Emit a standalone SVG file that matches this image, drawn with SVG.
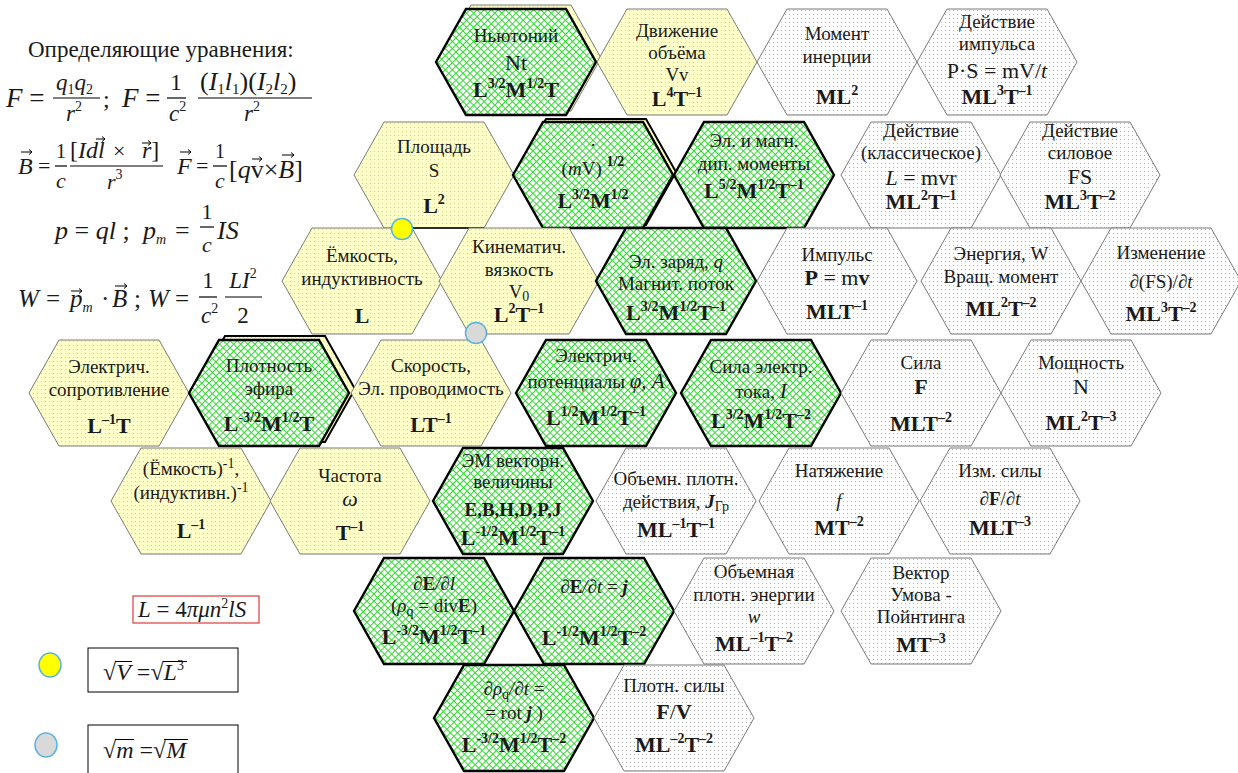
<svg xmlns="http://www.w3.org/2000/svg" width="1238" height="773" viewBox="0 0 1238 773">
<style>
text{font-family:"Liberation Serif","Times New Roman",serif;fill:#1a1a1a}
.t{font-size:19px;text-anchor:middle}
.v{font-size:22px}
.d{font-size:22px;font-weight:bold}
.s{font-size:14px}
.i{font-style:italic}
.u{font-style:normal}
.b{font-weight:bold}
.c{text-anchor:middle}
.g{fill:url(#pg);stroke:#000;stroke-width:2.4}
.y{fill:url(#py);stroke:#7a7a7a;stroke-width:1}
.w{fill:url(#pw);stroke:#7a7a7a;stroke-width:1}
.bar{stroke:#000;stroke-width:1.2}
.ar{stroke:#000;stroke-width:1;fill:none}
</style>
<defs>
<pattern id="pg" width="5" height="5" patternUnits="userSpaceOnUse" patternTransform="rotate(45)">
<rect width="5" height="5" fill="#fff"/>
<path d="M0 0.5H5M0.5 0V5" stroke="#2fdc2f" stroke-width="1"/>
</pattern>
<pattern id="py" width="4" height="4" patternUnits="userSpaceOnUse">
<rect width="4" height="4" fill="#ffffc8"/>
<rect width="1" height="1" fill="#dcd690"/>
</pattern>
<pattern id="pw" width="4" height="4" patternUnits="userSpaceOnUse">
<rect width="4" height="4" fill="#fff"/>
<rect width="1" height="1" fill="#b4b4b4"/>
</pattern>
<polygon id="hx" points="-80,0 -50,-53 50,-53 80,0 50,53 -50,53"/>
</defs>

<g id="equations">
<text x="28" y="57" font-size="23">Определяющие уравнения:</text>
<!-- line 1 -->
<text x="6" y="107" font-size="27"><tspan class="i">F</tspan> =</text>
<text x="56" y="90" font-size="23" class="i">q<tspan class="s u" dy="4">1</tspan><tspan dy="-4">q</tspan><tspan class="s u" dy="4">2</tspan></text>
<line class="bar" x1="53" y1="98" x2="100" y2="98"/>
<text x="66" y="121" font-size="23" class="i">r<tspan class="s u" dy="-10">2</tspan></text>
<text x="103" y="107" font-size="24">;</text>
<text x="122" y="107" font-size="27"><tspan class="i">F</tspan> =</text>
<text x="176" y="90" font-size="23" class="c">1</text>
<line class="bar" x1="167" y1="98" x2="186" y2="98"/>
<text x="169" y="121" font-size="23" class="i">c<tspan class="s u" dy="-10">2</tspan></text>
<text x="200" y="90" font-size="26">(<tspan class="i">I</tspan><tspan font-size="15" dy="4">1</tspan><tspan class="i" dy="-4">l</tspan><tspan font-size="15" dy="4">1</tspan><tspan dy="-4">)(</tspan><tspan class="i">I</tspan><tspan font-size="15" dy="4">2</tspan><tspan class="i" dy="-4">l</tspan><tspan font-size="15" dy="4">2</tspan><tspan dy="-4">)</tspan></text>
<line class="bar" x1="198" y1="98" x2="312" y2="98"/>
<text x="244" y="121" font-size="23" class="i">r<tspan class="s u" dy="-10">2</tspan></text>
<!-- line 2 -->
<text x="18" y="174" font-size="24" class="i">B</text>
<path class="ar" d="M21 152h11m-3 -2.5l3 2.5-3 2.5"/>
<text x="38" y="173" font-size="22">=</text>
<text x="61" y="158" font-size="20" class="c">1</text>
<line class="bar" x1="55" y1="166" x2="67" y2="166"/>
<text x="61" y="188" font-size="22" class="c i">c</text>
<text x="70" y="158" font-size="24">[<tspan class="i">Idl</tspan></text>
<path class="ar" d="M96 139h9m-3 -2.5l3 2.5-3 2.5"/>
<text x="113" y="158" font-size="22">×</text>
<text x="142" y="158" font-size="24"><tspan class="i">r</tspan>]</text>
<path class="ar" d="M142 143h9m-3 -2.5l3 2.5-3 2.5"/>
<line class="bar" x1="70" y1="166" x2="163" y2="166"/>
<text x="107" y="189" font-size="22" class="i">r<tspan class="s u" dy="-10">3</tspan></text>
<text x="177" y="174" font-size="24" class="i">F</text>
<path class="ar" d="M180 152h11m-3 -2.5l3 2.5-3 2.5"/>
<text x="196" y="173" font-size="22">=</text>
<text x="220" y="158" font-size="20" class="c">1</text>
<line class="bar" x1="213" y1="166" x2="227" y2="166"/>
<text x="220" y="188" font-size="22" class="c i">c</text>
<text x="229" y="178" font-size="26">[<tspan class="i">q</tspan>v×<tspan class="i">B</tspan>]</text>
<path class="ar" d="M252 159h10m-3 -2.5l3 2.5-3 2.5"/>
<path class="ar" d="M282 155h12m-3 -2.5l3 2.5-3 2.5"/>
<!-- line 3 -->
<text x="55" y="239" font-size="26"><tspan class="i">p</tspan> = <tspan class="i">ql</tspan> ;</text>
<text x="143" y="239" font-size="26" class="i">p<tspan class="s" dy="5">m</tspan></text>
<text x="175" y="239" font-size="26">=</text>
<text x="207" y="219" font-size="22" class="c">1</text>
<line class="bar" x1="200" y1="227" x2="214" y2="227"/>
<text x="207" y="252" font-size="22" class="c i">c</text>
<text x="217" y="239" font-size="26" class="i">IS</text>
<!-- line 4 -->
<text x="18" y="307" font-size="25" class="i">W</text>
<text x="46" y="307" font-size="25">=</text>
<text x="70" y="307" font-size="25" class="i">p<tspan class="s" dy="5">m</tspan></text>
<path class="ar" d="M71 291h11m-3 -2.5l3 2.5-3 2.5"/>
<text x="101" y="307" font-size="25">·</text>
<text x="112" y="307" font-size="25" class="i">B</text>
<path class="ar" d="M115 286h12m-3 -2.5l3 2.5-3 2.5"/>
<text x="134" y="307" font-size="25">;</text>
<text x="148" y="307" font-size="25" class="i">W</text>
<text x="175" y="307" font-size="25">=</text>
<text x="208" y="288" font-size="23" class="c">1</text>
<line class="bar" x1="199" y1="297" x2="217" y2="297"/>
<text x="201" y="323" font-size="23" class="i">c<tspan class="s u" dy="-10">2</tspan></text>
<text x="243" y="288" font-size="23" class="c i">LI<tspan class="s u" dy="-10">2</tspan></text>
<line class="bar" x1="225" y1="297" x2="262" y2="297"/>
<text x="243" y="323" font-size="23" class="c">2</text>
</g>

<g id="legend">
<rect x="133" y="596" width="126" height="27" fill="none" stroke="#e03a3a" stroke-width="1.2"/>
<text x="138" y="617" font-size="23"><tspan class="i">L</tspan> = 4<tspan class="i">πμn</tspan><tspan class="s" dy="-9">2</tspan><tspan class="i" dy="9">lS</tspan></text>
<ellipse cx="50" cy="665" rx="11" ry="12" fill="#ffff00" stroke="#5ab4e0" stroke-width="1.5"/>
<rect x="88" y="648" width="150" height="44" fill="#fff" stroke="#000" stroke-width="1"/>
<text x="103" y="680" font-size="24">√<tspan class="i">V</tspan> =√<tspan class="i">L</tspan><tspan class="s" dy="-10">3</tspan></text>
<path d="M115 661.5H132M163 661.5H187" stroke="#000" stroke-width="1.1"/>
<ellipse cx="46" cy="745" rx="11" ry="12" fill="#d9d9d9" stroke="#5ab4e0" stroke-width="1.5"/>
<rect x="88" y="725" width="150" height="52" fill="#fff" stroke="#000" stroke-width="1"/>
<text x="103" y="758" font-size="24">√<tspan class="i">m</tspan> =√<tspan class="i">M</tspan></text>
<path d="M115 739.5H134M164 739.5H188" stroke="#000" stroke-width="1.1"/>
</g>

<g id="connectors"></g>

<!-- row 1 -->
<g id="n-newtonium">
<use href="#hx" x="521" y="58" class="y"/>
<use href="#hx" x="516" y="62" class="g"/>
<text class="t" x="516" y="42">Ньютоний</text>
<text class="t v" x="516" y="70">Nt</text>
<text class="t d" x="516" y="97">L<tspan class="s" dy="-9">3/2</tspan><tspan dy="9">M</tspan><tspan class="s" dy="-9">1/2</tspan><tspan dy="9">T</tspan></text>
</g>
<g id="n-volume-motion">
<use href="#hx" x="677" y="62" class="y"/>
<text class="t" x="677" y="37">Движение</text>
<text class="t" x="677" y="59">объёма</text>
<text class="t" x="677" y="81">Vv</text>
<text class="t d" x="677" y="106">L<tspan class="s" dy="-9">4</tspan><tspan dy="9">T</tspan><tspan class="s" dy="-9">–1</tspan></text>
</g>
<g id="n-inertia">
<use href="#hx" x="837" y="62" class="w"/>
<text class="t" x="837" y="40">Момент</text>
<text class="t" x="837" y="63">инерции</text>
<text class="t d" x="837" y="104">ML<tspan class="s" dy="-9">2</tspan></text>
</g>
<g id="n-impulse-action">
<use href="#hx" x="997" y="62" class="w"/>
<text class="t" x="997" y="28">Действие</text>
<text class="t" x="997" y="50">импульса</text>
<text class="t v" x="997" y="78">P·S = mV/<tspan class="i">t</tspan></text>
<text class="t d" x="997" y="104">ML<tspan class="s" dy="-9">3</tspan><tspan dy="9">T</tspan><tspan class="s" dy="-9">–1</tspan></text>
</g>

<!-- row 2 -->
<g id="n-area">
<use href="#hx" x="434" y="175" class="y"/>
<line x1="412" y1="228" x2="484" y2="228" stroke="#000" stroke-width="1.5"/>
<text class="t" x="434" y="153">Площадь</text>
<text class="t" x="434" y="177">S</text>
<text class="t d" x="434" y="213">L<tspan class="s" dy="-9">2</tspan></text>
</g>
<g id="n-mv">
<use href="#hx" x="596" y="172" class="y" style="stroke:#000;stroke-width:2"/>
<use href="#hx" x="593" y="175" class="g"/>
<text class="t" x="593" y="146">.</text>
<text class="t" x="593" y="175" font-size="21">(<tspan class="i">m</tspan>V) <tspan class="s b" dy="-9">1/2</tspan></text>
<text class="t d" x="593" y="208">L<tspan class="s" dy="-9">3/2</tspan><tspan dy="9">M</tspan><tspan class="s" dy="-9">1/2</tspan></text>
</g>
<g id="n-dipole">
<use href="#hx" x="754" y="175" class="g"/>
<text class="t" x="754" y="147">Эл. и магн.</text>
<text class="t" x="754" y="170">дип. моменты</text>
<text class="t d" x="754" y="198">L<tspan class="s" dy="-9">5/2</tspan><tspan dy="9">M</tspan><tspan class="s" dy="-9">1/2</tspan><tspan dy="9">T</tspan><tspan class="s" dy="-9">–1</tspan></text>
</g>
<g id="n-classic-action">
<use href="#hx" x="921" y="175" class="w"/>
<text class="t" x="921" y="137">Действие</text>
<text class="t" x="921" y="159">(классическое)</text>
<text class="t v" x="921" y="185"><tspan class="i">L</tspan> = mvr</text>
<text class="t d" x="921" y="209">ML<tspan class="s" dy="-9">2</tspan><tspan dy="9">T</tspan><tspan class="s" dy="-9">–1</tspan></text>
</g>
<g id="n-force-action">
<use href="#hx" x="1080" y="175" class="w"/>
<text class="t" x="1080" y="137">Действие</text>
<text class="t" x="1080" y="159">силовое</text>
<text class="t v" x="1080" y="184">FS</text>
<text class="t d" x="1080" y="209">ML<tspan class="s" dy="-9">3</tspan><tspan dy="9">T</tspan><tspan class="s" dy="-9">–2</tspan></text>
</g>

<!-- row 3 -->
<g id="n-capacitance">
<use href="#hx" x="362" y="281" class="y"/>
<text class="t" x="362" y="262">Ёмкость,</text>
<text class="t" x="362" y="285">индуктивность</text>
<text class="t d" x="362" y="323">L</text>
</g>
<g id="n-viscosity">
<use href="#hx" x="519" y="281" class="y"/>
<text class="t" x="519" y="253">Кинематич.</text>
<text class="t" x="519" y="276">вязкость</text>
<text class="t" x="519" y="298">V<tspan class="s" dy="3">0</tspan></text>
<text class="t d" x="519" y="322">L<tspan class="s" dy="-9">2</tspan><tspan dy="9">T</tspan><tspan class="s" dy="-9">–1</tspan></text>
</g>
<g id="n-charge">
<use href="#hx" x="676" y="281" class="g"/>
<text class="t" x="676" y="268">Эл. заряд, <tspan class="i">q</tspan></text>
<text class="t" x="676" y="290">Магнит. поток</text>
<text class="t d" x="676" y="320">L<tspan class="s" dy="-9">3/2</tspan><tspan dy="9">M</tspan><tspan class="s" dy="-9">1/2</tspan><tspan dy="9">T</tspan><tspan class="s" dy="-9">–1</tspan></text>
</g>
<g id="n-momentum">
<use href="#hx" x="837" y="281" class="w"/>
<text class="t" x="837" y="261">Импульс</text>
<text class="t v" x="837" y="285"><tspan class="b">P</tspan> = m<tspan class="b">v</tspan></text>
<text class="t d" x="837" y="319">MLT<tspan class="s" dy="-9">–1</tspan></text>
</g>
<g id="n-energy">
<use href="#hx" x="1001" y="281" class="w"/>
<text class="t" x="1001" y="260">Энергия, W</text>
<text class="t" x="1001" y="283">Вращ. момент</text>
<text class="t d" x="1001" y="316">ML<tspan class="s" dy="-9">2</tspan><tspan dy="9">T</tspan><tspan class="s" dy="-9">–2</tspan></text>
</g>
<g id="n-fs-change">
<use href="#hx" x="1161" y="281" class="w"/>
<text class="t" x="1161" y="259">Изменение</text>
<text class="t" x="1161" y="288" font-size="23">∂(FS)/∂<tspan class="i">t</tspan></text>
<text class="t d" x="1161" y="321">ML<tspan class="s" dy="-9">3</tspan><tspan dy="9">T</tspan><tspan class="s" dy="-9">–2</tspan></text>
</g>

<!-- row 4 -->
<g id="n-resistance">
<use href="#hx" x="109" y="393" class="y"/>
<text class="t" x="109" y="373">Электрич.</text>
<text class="t" x="109" y="396">сопротивление</text>
<text class="t d" x="109" y="433">L<tspan class="s" dy="-9">–1</tspan><tspan dy="9">T</tspan></text>
</g>
<g id="n-ether-density">
<use href="#hx" x="275" y="389" class="y" style="stroke:#000;stroke-width:2"/>
<use href="#hx" x="269" y="393" class="g"/>
<text class="t" x="269" y="372">Плотность</text>
<text class="t" x="269" y="395">эфира</text>
<text class="t d" x="269" y="431">L<tspan class="s" dy="-9">-3/2</tspan><tspan dy="9">M</tspan><tspan class="s" dy="-9">1/2</tspan><tspan dy="9">T</tspan></text>
</g>
<g id="n-velocity">
<use href="#hx" x="431" y="393" class="y"/>
<text class="t" x="431" y="372">Скорость,</text>
<text class="t" x="431" y="395">Эл. проводимость</text>
<text class="t d" x="431" y="432">LT<tspan class="s" dy="-9">–1</tspan></text>
</g>
<g id="n-potentials">
<use href="#hx" x="596" y="393" class="g"/>
<text class="t" x="596" y="362">Электрич.</text>
<text class="t" x="596" y="388">потенциалы  <tspan class="i" font-size="21">φ, A</tspan></text>
<text class="t d" x="596" y="425">L<tspan class="s" dy="-9">1/2</tspan><tspan dy="9">M</tspan><tspan class="s" dy="-9">1/2</tspan><tspan dy="9">T</tspan><tspan class="s" dy="-9">–1</tspan></text>
</g>
<g id="n-current">
<use href="#hx" x="761" y="393" class="g"/>
<text class="t" x="761" y="373">Сила электр.</text>
<text class="t" x="761" y="398">тока, <tspan class="i" font-size="21">I</tspan></text>
<text class="t d" x="761" y="428">L<tspan class="s" dy="-9">3/2</tspan><tspan dy="9">M</tspan><tspan class="s" dy="-9">1/2</tspan><tspan dy="9">T</tspan><tspan class="s" dy="-9">–2</tspan></text>
</g>
<g id="n-force">
<use href="#hx" x="921" y="393" class="w"/>
<text class="t" x="921" y="369">Сила</text>
<text class="t v b" x="921" y="394">F</text>
<text class="t d" x="921" y="431">MLT<tspan class="s" dy="-9">–2</tspan></text>
</g>
<g id="n-power">
<use href="#hx" x="1081" y="393" class="w"/>
<text class="t" x="1081" y="369">Мощность</text>
<text class="t v" x="1081" y="394">N</text>
<text class="t d" x="1081" y="430">ML<tspan class="s" dy="-9">2</tspan><tspan dy="9">T</tspan><tspan class="s" dy="-9">–3</tspan></text>
</g>

<!-- row 5 -->
<g id="n-inv-capacitance">
<use href="#hx" x="191" y="501" class="y"/>
<text class="t" x="191" y="475">(Ёмкость)<tspan class="s" dy="-7">-1</tspan><tspan dy="7">,</tspan></text>
<text class="t" x="191" y="499">(индуктивн.)<tspan class="s" dy="-7">-1</tspan></text>
<text class="t d" x="191" y="538">L<tspan class="s" dy="-9">–1</tspan></text>
</g>
<g id="n-frequency">
<use href="#hx" x="350" y="501" class="y"/>
<text class="t" x="350" y="482">Частота</text>
<text class="t v i" x="350" y="506">ω</text>
<text class="t d" x="350" y="540">T<tspan class="s" dy="-9">–1</tspan></text>
</g>
<g id="n-em-vectors">
<use href="#hx" x="513" y="501" class="g"/>
<text class="t" x="513" y="467" font-size="18">ЭМ векторн.</text>
<text class="t" x="513" y="488" font-size="18">величины</text>
<text class="t b" x="513" y="516" font-size="20">E,B,H,D,P,J</text>
<text class="t d" x="513" y="545">L<tspan class="s" dy="-9">-1/2</tspan><tspan dy="9">M</tspan><tspan class="s" dy="-9">1/2</tspan><tspan dy="9">T</tspan><tspan class="s" dy="-9">–1</tspan></text>
</g>
<g id="n-action-density">
<use href="#hx" x="676" y="501" class="w"/>
<text class="t" x="676" y="485">Объемн. плотн.</text>
<text class="t" x="676" y="508">действия, <tspan class="i b">J</tspan><tspan class="s" dy="3">Гр</tspan></text>
<text class="t d" x="676" y="537">ML<tspan class="s" dy="-9">–1</tspan><tspan dy="9">T</tspan><tspan class="s" dy="-9">–1</tspan></text>
</g>
<g id="n-tension">
<use href="#hx" x="839" y="501" class="w"/>
<text class="t" x="839" y="477">Натяжение</text>
<text class="t i" x="839" y="507" font-size="22">f</text>
<text class="t d" x="839" y="535">MT<tspan class="s" dy="-9">–2</tspan></text>
</g>
<g id="n-force-change">
<use href="#hx" x="1000" y="501" class="w"/>
<text class="t" x="1000" y="477">Изм. силы</text>
<text class="t" x="1000" y="505" font-size="22">∂<tspan class="b">F</tspan>/∂<tspan class="i">t</tspan></text>
<text class="t d" x="1000" y="535">MLT<tspan class="s" dy="-9">–3</tspan></text>
</g>

<!-- row 6 -->
<g id="n-dE-dl">
<use href="#hx" x="434" y="611" class="g"/>
<text class="t i" x="434" y="590" font-size="20">∂<tspan class="b u">E</tspan>/∂l</text>
<text class="t" x="434" y="612">(<tspan class="i">ρ</tspan><tspan class="s" dy="4">q</tspan><tspan dy="-4"> = div</tspan><tspan class="b">E</tspan>)</text>
<text class="t d" x="434" y="644">L<tspan class="s" dy="-9">-3/2</tspan><tspan dy="9">M</tspan><tspan class="s" dy="-9">1/2</tspan><tspan dy="9">T</tspan><tspan class="s" dy="-9">–1</tspan></text>
</g>
<g id="n-dE-dt">
<use href="#hx" x="594" y="611" class="g"/>
<text class="t" x="594" y="593" font-size="22"><tspan class="i">∂</tspan><tspan class="b">E</tspan><tspan class="i">/∂t</tspan> = <tspan class="i b">j</tspan></text>
<text class="t d" x="594" y="645">L<tspan class="s" dy="-9">-1/2</tspan><tspan dy="9">M</tspan><tspan class="s" dy="-9">1/2</tspan><tspan dy="9">T</tspan><tspan class="s" dy="-9">–2</tspan></text>
</g>
<g id="n-energy-density">
<use href="#hx" x="754" y="611" class="w"/>
<text class="t" x="754" y="578">Объемная</text>
<text class="t" x="754" y="601">плотн. энергии</text>
<text class="t i" x="754" y="623" font-size="21">w</text>
<text class="t d" x="754" y="651">ML<tspan class="s" dy="-9">–1</tspan><tspan dy="9">T</tspan><tspan class="s" dy="-9">–2</tspan></text>
</g>
<g id="n-poynting">
<use href="#hx" x="921" y="611" class="w"/>
<text class="t" x="921" y="579">Вектор</text>
<text class="t" x="921" y="601">Умова -</text>
<text class="t" x="921" y="623">Пойнтинга</text>
<text class="t d" x="921" y="652">MT<tspan class="s" dy="-9">–3</tspan></text>
</g>

<!-- row 7 -->
<g id="n-drho-dt">
<use href="#hx" x="514" y="718" class="g"/>
<text class="t i" x="514" y="695" font-size="20">∂ρ<tspan class="s u" dy="4">q</tspan><tspan dy="-4">/∂t</tspan><tspan class="u"> =</tspan></text>
<text class="t" x="514" y="719">= rot <tspan class="i b">j</tspan> )</text>
<text class="t d" x="514" y="752">L<tspan class="s" dy="-9">-3/2</tspan><tspan dy="9">M</tspan><tspan class="s" dy="-9">1/2</tspan><tspan dy="9">T</tspan><tspan class="s" dy="-9">–2</tspan></text>
</g>
<g id="n-force-density">
<use href="#hx" x="674" y="718" class="w"/>
<text class="t" x="674" y="692">Плотн. силы</text>
<text class="t v b" x="674" y="719">F<tspan font-weight="normal">/</tspan>V</text>
<text class="t d" x="674" y="752">ML<tspan class="s" dy="-9">–2</tspan><tspan dy="9">T</tspan><tspan class="s" dy="-9">–2</tspan></text>
</g>

<g id="markers">
<circle cx="402" cy="229" r="10.5" fill="#ffff00" stroke="#5ab4e0" stroke-width="1.5"/>
<circle cx="476" cy="333" r="10.5" fill="#d9d9d9" stroke="#5ab4e0" stroke-width="1.5"/>
</g>
</svg>
